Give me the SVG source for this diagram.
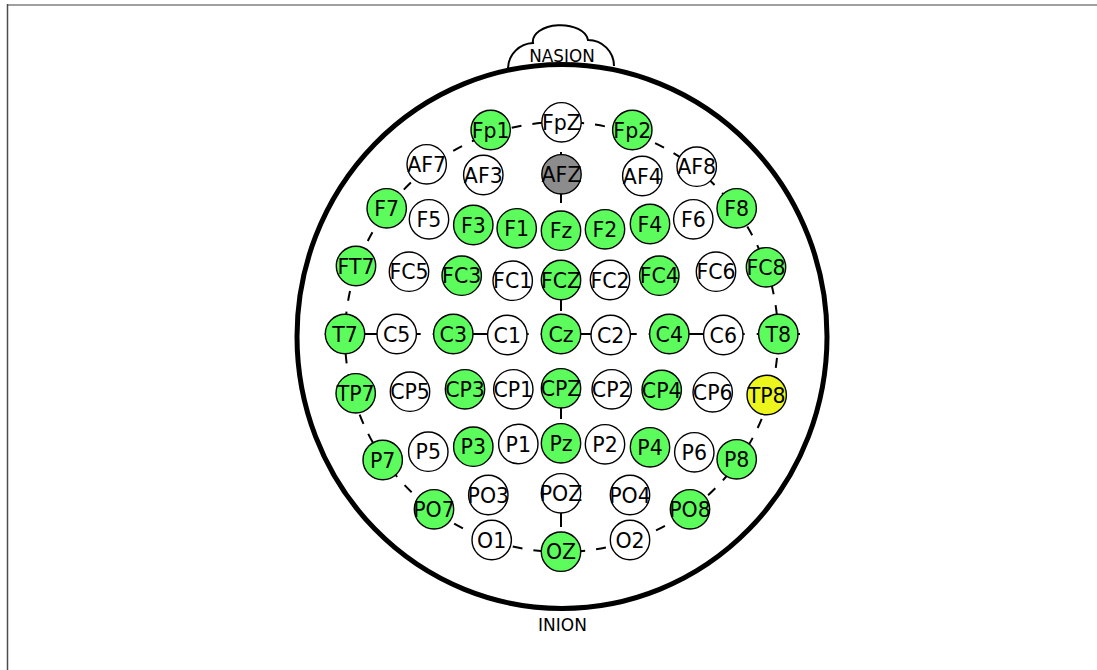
<svg xmlns="http://www.w3.org/2000/svg" width="1097" height="670" viewBox="0 0 1097 670">
<style>
.e{stroke:#000;stroke-width:1.4}
.g{fill:#5cfc5c}
.w{fill:#fff}
.k{fill:#8c8c8c}
.y{fill:#ecf51c}
.t{font-family:"DejaVu Sans",sans-serif;font-size:20.5px;fill:#000;text-anchor:middle}
.c{fill:none;stroke:#000;stroke-width:2}
.lm{font-family:"DejaVu Sans",sans-serif;font-size:17px;fill:#000;text-anchor:middle}
</style>
<rect x="0" y="0" width="1097" height="670" fill="#fff"/>
<line x1="7" y1="5" x2="1097" y2="5" stroke="#808080" stroke-width="1.5"/>
<line x1="7.5" y1="4" x2="7.5" y2="670" stroke="#4d4d4d" stroke-width="1.5"/>
<g id="head">
<path d="M 508,68 A 26,26 0 0 1 533,43 A 27,16 0 0 1 588,40 A 26,26 0 0 1 614,66" fill="#fff" stroke="#000" stroke-width="2"/>
<text class="lm" x="562" y="61.5" style="font-size:16.8px">NASION</text>
<ellipse cx="562" cy="336.5" rx="265" ry="272" fill="none" stroke="#000" stroke-width="5"/>
<text class="lm" x="562.5" y="630.7">INION</text>
</g>
<g id="connectors">
<ellipse class="c" cx="561.5" cy="337" rx="216.5" ry="215" stroke-dasharray="10 11"/>
<line class="c" x1="561" y1="107" x2="561" y2="552" stroke-dasharray="30 15 51 12"/>
<line class="c" x1="324.7" y1="334" x2="800" y2="334" stroke-dasharray="96 12"/>
</g>
<g id="Fp1"><circle class="e g" cx="490.7" cy="130" r="19.7"/><text class="t" x="490.7" y="137.5">Fp1</text></g>
<g id="FpZ"><circle class="e w" cx="561.5" cy="122.3" r="19.7"/><text class="t" x="561.5" y="129.8">FpZ</text></g>
<g id="Fp2"><circle class="e g" cx="632.3" cy="130" r="19.7"/><text class="t" x="632.3" y="137.5">Fp2</text></g>
<g id="AF7"><circle class="e w" cx="426.7" cy="164.3" r="19.7"/><text class="t" x="426.7" y="171.8">AF7</text></g>
<g id="AF3"><circle class="e w" cx="483.3" cy="175" r="19.7"/><text class="t" x="483.3" y="182.5">AF3</text></g>
<g id="AFZ"><circle class="e k" cx="561.5" cy="174.3" r="19.7"/><text class="t" x="561.5" y="181.8">AFZ</text></g>
<g id="AF4"><circle class="e w" cx="642.3" cy="176" r="19.7"/><text class="t" x="642.3" y="183.5">AF4</text></g>
<g id="AF8"><circle class="e w" cx="696.7" cy="166.7" r="19.7"/><text class="t" x="696.7" y="174.2">AF8</text></g>
<g id="F7"><circle class="e g" cx="386.7" cy="208.3" r="19.7"/><text class="t" x="386.7" y="215.8">F7</text></g>
<g id="F5"><circle class="e w" cx="429" cy="219.3" r="19.7"/><text class="t" x="429" y="226.8">F5</text></g>
<g id="F3"><circle class="e g" cx="473.3" cy="225" r="19.7"/><text class="t" x="473.3" y="232.5">F3</text></g>
<g id="F1"><circle class="e g" cx="516.7" cy="228.3" r="19.7"/><text class="t" x="516.7" y="235.8">F1</text></g>
<g id="Fz"><circle class="e g" cx="561" cy="230.7" r="19.7"/><text class="t" x="561" y="238.2">Fz</text></g>
<g id="F2"><circle class="e g" cx="605" cy="229.3" r="19.7"/><text class="t" x="605" y="236.8">F2</text></g>
<g id="F4"><circle class="e g" cx="650" cy="224" r="19.7"/><text class="t" x="650" y="231.5">F4</text></g>
<g id="F6"><circle class="e w" cx="693.3" cy="219.3" r="19.7"/><text class="t" x="693.3" y="226.8">F6</text></g>
<g id="F8"><circle class="e g" cx="736.7" cy="208.3" r="19.7"/><text class="t" x="736.7" y="215.8">F8</text></g>
<g id="FT7"><circle class="e g" cx="356" cy="266" r="19.7"/><text class="t" x="356" y="273.5">FT7</text></g>
<g id="FC5"><circle class="e w" cx="409" cy="271.7" r="19.7"/><text class="t" x="409" y="279.2">FC5</text></g>
<g id="FC3"><circle class="e g" cx="461.7" cy="275.7" r="19.7"/><text class="t" x="461.7" y="283.2">FC3</text></g>
<g id="FC1"><circle class="e w" cx="512.7" cy="280.7" r="19.7"/><text class="t" x="512.7" y="288.2">FC1</text></g>
<g id="FCZ"><circle class="e g" cx="561" cy="280" r="19.7"/><text class="t" x="561" y="287.5">FCZ</text></g>
<g id="FC2"><circle class="e w" cx="610" cy="280" r="19.7"/><text class="t" x="610" y="287.5">FC2</text></g>
<g id="FC4"><circle class="e g" cx="659.3" cy="275.7" r="19.7"/><text class="t" x="659.3" y="283.2">FC4</text></g>
<g id="FC6"><circle class="e w" cx="716" cy="271.7" r="19.7"/><text class="t" x="716" y="279.2">FC6</text></g>
<g id="FC8"><circle class="e g" cx="766" cy="267.3" r="19.7"/><text class="t" x="766" y="274.8">FC8</text></g>
<g id="T7"><circle class="e g" cx="345" cy="334" r="19.7"/><text class="t" x="345" y="341.5">T7</text></g>
<g id="C5"><circle class="e w" cx="396.7" cy="334" r="19.7"/><text class="t" x="396.7" y="341.5">C5</text></g>
<g id="C3"><circle class="e g" cx="453.3" cy="334" r="19.7"/><text class="t" x="453.3" y="341.5">C3</text></g>
<g id="C1"><circle class="e w" cx="507.3" cy="335" r="19.7"/><text class="t" x="507.3" y="342.5">C1</text></g>
<g id="Cz"><circle class="e g" cx="561" cy="334" r="19.7"/><text class="t" x="561" y="341.5">Cz</text></g>
<g id="C2"><circle class="e w" cx="610.7" cy="335" r="19.7"/><text class="t" x="610.7" y="342.5">C2</text></g>
<g id="C4"><circle class="e g" cx="669.3" cy="334" r="19.7"/><text class="t" x="669.3" y="341.5">C4</text></g>
<g id="C6"><circle class="e w" cx="723.3" cy="335" r="19.7"/><text class="t" x="723.3" y="342.5">C6</text></g>
<g id="T8"><circle class="e g" cx="778.3" cy="334" r="19.7"/><text class="t" x="778.3" y="341.5">T8</text></g>
<g id="TP7"><circle class="e g" cx="355.7" cy="393.3" r="19.7"/><text class="t" x="355.7" y="400.8">TP7</text></g>
<g id="CP5"><circle class="e w" cx="410" cy="391.7" r="19.7"/><text class="t" x="410" y="399.2">CP5</text></g>
<g id="CP3"><circle class="e g" cx="465" cy="389.3" r="19.7"/><text class="t" x="465" y="396.8">CP3</text></g>
<g id="CP1"><circle class="e w" cx="513.3" cy="389.3" r="19.7"/><text class="t" x="513.3" y="396.8">CP1</text></g>
<g id="CPZ"><circle class="e g" cx="561" cy="388.3" r="19.7"/><text class="t" x="561" y="395.8">CPZ</text></g>
<g id="CP2"><circle class="e w" cx="611.7" cy="389.3" r="19.7"/><text class="t" x="611.7" y="396.8">CP2</text></g>
<g id="CP4"><circle class="e g" cx="661.7" cy="390" r="19.7"/><text class="t" x="661.7" y="397.5">CP4</text></g>
<g id="CP6"><circle class="e w" cx="712.7" cy="392.3" r="19.7"/><text class="t" x="712.7" y="399.8">CP6</text></g>
<g id="TP8"><circle class="e y" cx="766.7" cy="395" r="19.7"/><text class="t" x="766.7" y="402.5">TP8</text></g>
<g id="P7"><circle class="e g" cx="382.7" cy="460" r="19.7"/><text class="t" x="382.7" y="467.5">P7</text></g>
<g id="P5"><circle class="e w" cx="428.3" cy="451.7" r="19.7"/><text class="t" x="428.3" y="459.2">P5</text></g>
<g id="P3"><circle class="e g" cx="473.3" cy="446.7" r="19.7"/><text class="t" x="473.3" y="454.2">P3</text></g>
<g id="P1"><circle class="e w" cx="518.3" cy="444" r="19.7"/><text class="t" x="518.3" y="451.5">P1</text></g>
<g id="Pz"><circle class="e g" cx="561" cy="443.3" r="19.7"/><text class="t" x="561" y="450.8">Pz</text></g>
<g id="P2"><circle class="e w" cx="605" cy="444.3" r="19.7"/><text class="t" x="605" y="451.8">P2</text></g>
<g id="P4"><circle class="e g" cx="650" cy="447.3" r="19.7"/><text class="t" x="650" y="454.8">P4</text></g>
<g id="P6"><circle class="e w" cx="694.3" cy="452.3" r="19.7"/><text class="t" x="694.3" y="459.8">P6</text></g>
<g id="P8"><circle class="e g" cx="736.7" cy="459.3" r="19.7"/><text class="t" x="736.7" y="466.8">P8</text></g>
<g id="PO7"><circle class="e g" cx="434" cy="509.3" r="19.7"/><text class="t" x="434" y="516.8">PO7</text></g>
<g id="PO3"><circle class="e w" cx="488.3" cy="495" r="19.7"/><text class="t" x="488.3" y="502.5">PO3</text></g>
<g id="POZ"><circle class="e w" cx="561" cy="493.3" r="19.7"/><text class="t" x="561" y="500.8">POZ</text></g>
<g id="PO4"><circle class="e w" cx="630" cy="495" r="19.7"/><text class="t" x="630" y="502.5">PO4</text></g>
<g id="PO8"><circle class="e g" cx="690" cy="509.3" r="19.7"/><text class="t" x="690" y="516.8">PO8</text></g>
<g id="O1"><circle class="e w" cx="491.7" cy="540" r="19.7"/><text class="t" x="491.7" y="547.5">O1</text></g>
<g id="OZ"><circle class="e g" cx="561" cy="551.7" r="19.7"/><text class="t" x="561" y="559.2">OZ</text></g>
<g id="O2"><circle class="e w" cx="630" cy="540" r="19.7"/><text class="t" x="630" y="547.5">O2</text></g>
</svg>
